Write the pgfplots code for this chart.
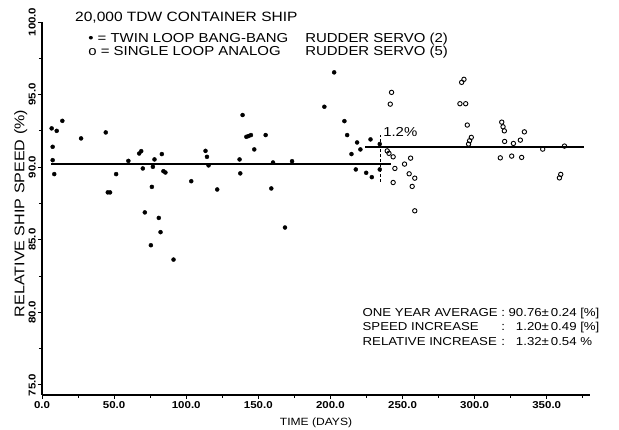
\documentclass[border=0pt]{standalone}
\usepackage{fontspec}
\setmainfont{Liberation Sans}[FakeStretch=1.15]
\usepackage{pgfplots}
\pgfplotsset{compat=1.18}
\begin{document}
\begin{tikzpicture}
\useasboundingbox (-42pt,-35pt) rectangle (577pt,395pt);
\begin{axis}[
  scale only axis, width=548pt, height=373pt,
  xmin=0, xmax=380, ymin=74.3, ymax=100,
  axis x line=bottom, axis y line=left,
  axis line style={-, line width=1.3pt},
  clip=false,
  xtick={0,50,...,350}, minor xtick={25,75,...,375},
  ytick={75,80,...,100}, minor ytick={77.5,82.5,...,97.5},
  tick align=outside, major tick length=4pt, minor tick length=3pt,
  tick style={line width=0.8pt, black},
  /pgf/number format/assume math mode=true,
  /pgf/number format/.cd, fixed, fixed zerofill, precision=1, /pgfplots/.cd,
  ticklabel style={font=\fontsize{10}{12}\selectfont\bfseries},
  yticklabel style={rotate=90, anchor=south, inner sep=2pt},
  xticklabel style={inner sep=2pt},
  xlabel={TIME (DAYS)},
  ylabel={RELATIVE SHIP SPEED (\%)},
  xlabel style={font=\fontsize{10.5}{12}\selectfont, yshift=-4pt},
  ylabel style={font=\fontsize{14}{16}\selectfont, yshift=-4pt, xshift=-5pt},
]
% reference lines
\addplot[line width=1.8pt, black, mark=none] coordinates {(6.5,90.19) (242,90.19)};
\addplot[line width=1.8pt, black, mark=none] coordinates {(224,91.36) (376,91.36)};
\addplot[line width=1pt, black, densely dashed, mark=none] coordinates {(234.7,89.0) (234.7,92.2)};
% twin loop bang-bang rudder servo (filled)
\addplot[only marks, mark=*, mark size=2pt, black] coordinates {
(6.7,92.67) (7.4,91.40) (7.4,90.48) (8.5,89.52) (10.2,92.50) (14.1,93.19)
(27.1,91.98) (44.2,92.39) (45.6,88.26) (47.2,88.26) (51.4,89.52) (59.9,90.43)
(67.4,90.94) (68.8,91.10) (69.9,89.91) (76.2,88.64) (76.9,90.02) (78.0,90.53)
(83.1,90.90) (84.2,89.72) (85.6,89.63) (103.5,89.03) (113.4,91.12) (114.4,90.71)
(115.5,90.12) (121.5,88.46) (137.0,90.53) (137.5,89.57)
(71.3,86.88) (81.0,86.50) (82.2,85.52) (75.5,84.62) (91.2,83.63)
(139.1,93.59) (141.7,92.09) (143.3,92.14) (144.9,92.21) (147.2,91.22) (155.1,92.21)
(159.0,88.53) (160.2,90.32) (168.5,85.84) (173.4,90.41) (195.8,94.16) (202.6,96.53)
(209.7,93.17) (211.6,92.21) (214.6,90.90) (217.6,89.84) (218.5,91.70) (220.8,91.22)
(224.8,89.61) (227.8,91.91) (228.7,89.31) (234.2,91.59) (234.2,89.84)
};
% single loop analog rudder servo (open)
\addplot[only marks, mark=o, mark size=2.2pt, line width=0.9pt, black] coordinates {
(242.4,95.15) (241.5,94.34) (239.4,91.12) (240.6,90.95) (243.5,90.71) (244.7,89.91) (243.5,88.94)
(251.4,90.21) (255.6,90.62) (254.6,89.54) (258.5,89.24) (256.7,88.67) (258.5,86.99)
(291.0,95.84) (292.6,96.05) (289.8,94.37) (293.8,94.37) (294.9,92.90) (297.7,92.05)
(296.5,91.82) (295.8,91.59)
(318.8,93.10) (319.7,92.78) (320.6,92.50) (320.8,91.77) (326.9,91.63) (331.7,91.86)
(334.5,92.43) (317.8,90.64) (325.7,90.76) (332.6,90.67) (347.2,91.24) (362.3,91.45)
(359.7,89.50) (358.8,89.26)
};
% annotations
\node[anchor=west, font=\fontsize{13.5}{15}\selectfont, inner sep=0pt] at (axis cs:22.9,100.28) {20,000 TDW CONTAINER SHIP};
\node[anchor=north west, font=\fontsize{13}{11}\selectfont, inner sep=0pt] at (axis cs:32,99.23) {%
\begin{tabular}{@{}l@{}}
\makebox[217pt][l]{\textbullet\ = TWIN LOOP BANG-BANG}RUDDER SERVO (2)\\
\makebox[217pt][l]{o = SINGLE LOOP ANALOG}RUDDER SERVO (5)
\end{tabular}};
\node[anchor=west, font=\fontsize{13}{15}\selectfont, inner sep=0pt] at (axis cs:236.5,92.45) {1.2\%};
\node[anchor=north west, font=\fontsize{11.5}{14.8}\selectfont, inner sep=0pt] at (axis cs:222.2,80.47) {%
\begin{tabular}{@{}l@{~:~}r@{±\,}l@{}}
ONE YEAR AVERAGE & 90.76 & 0.24 [\%]\\
SPEED INCREASE & 1.20 & 0.49 [\%]\\
RELATIVE INCREASE & 1.32 & 0.54 \%
\end{tabular}};
\end{axis}
\end{tikzpicture}
\end{document}
